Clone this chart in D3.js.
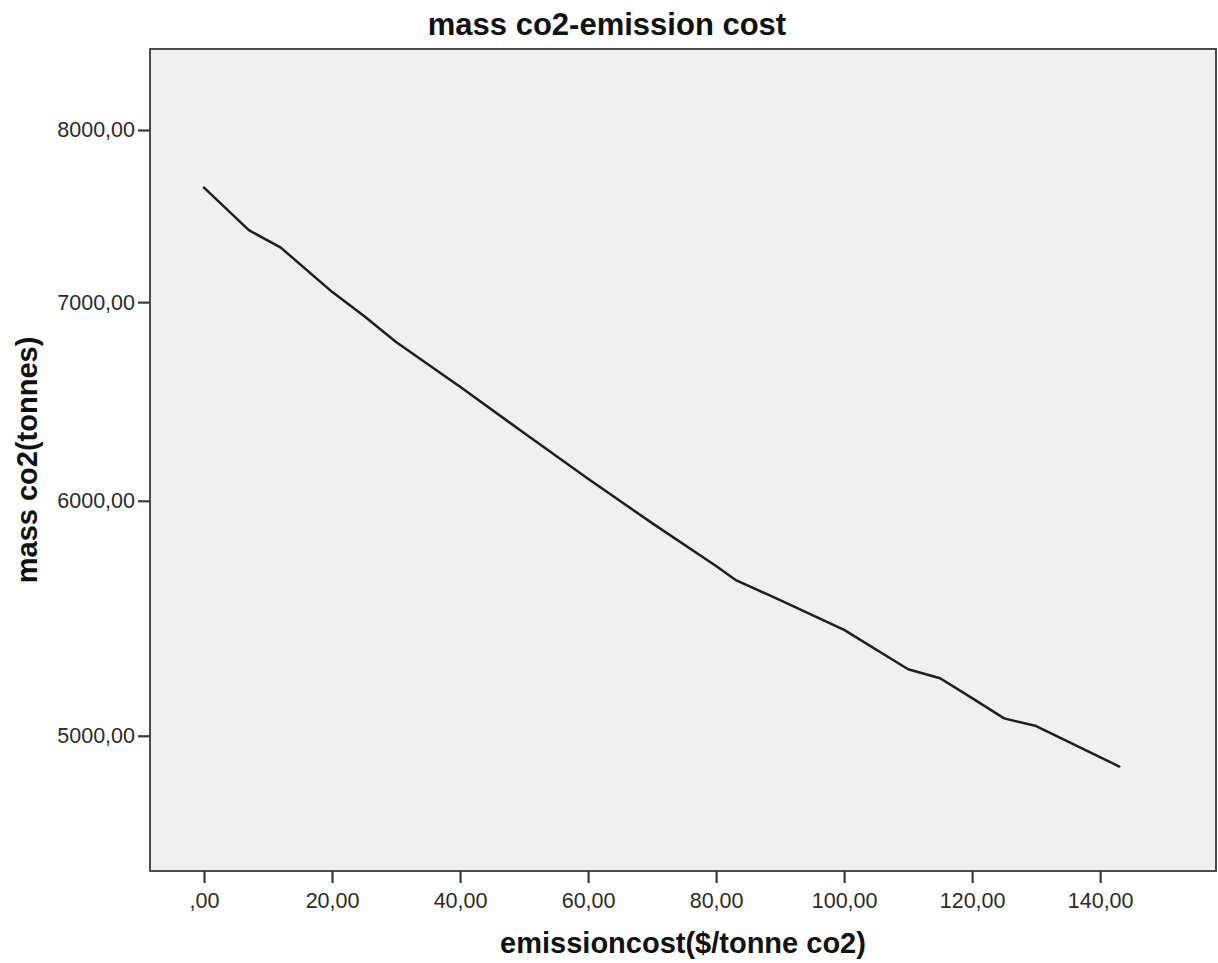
<!DOCTYPE html>
<html>
<head>
<meta charset="utf-8">
<script src="https://cdn.jsdelivr.net/npm/d3@7"></script>
<style>
  html, body { margin: 0; padding: 0; background: #ffffff; }
  svg { display: block; font-family: "Liberation Sans", Arial, sans-serif; }
</style>
</head>
<body>
<svg id="chart" width="1218" height="963"></svg>
<script>
// Emission cost ($/tonne CO2) and resulting CO2 mass (tonnes)
const emissionCost = [0, 7, 12, 20, 25, 30, 40, 50, 60, 70, 80, 83, 90, 100, 110, 115, 120, 125, 130, 143];
const massCO2 = [7650, 7402, 7302, 7056, 6925, 6787, 6555, 6324, 6103, 5897, 5704, 5643, 5555, 5428, 5265, 5228, 5148, 5068, 5038, 4882];

const xTicks = [0, 20, 40, 60, 80, 100, 120, 140];
const yTicks = [5000, 6000, 7000, 8000];

const chartTitle = "mass co2-emission cost";
const xTitle = "emissioncost($/tonne co2)";
const yTitle = "mass co2(tonnes)";

const svg = d3.select("#chart");
const plot = { left: 150, top: 49, right: 1216, bottom: 871 };

const x = d3.scaleLinear().domain([-8.44, 158.1]).range([plot.left, plot.right]);
const y = d3.scaleLog().domain([4502, 8519]).range([plot.bottom, plot.top]);

// Decimal comma with no leading zero, e.g. ",00", "20,00"
const fmt = v => {
  let s = d3.format(".2f")(v).replace(".", ",");
  if (s.startsWith("0,")) s = s.slice(1);
  return s;
};

// Plot background
svg.append("rect")
  .attr("x", plot.left).attr("y", plot.top)
  .attr("width", plot.right - plot.left).attr("height", plot.bottom - plot.top)
  .attr("fill", "#f0f0f0");

// Data line
const line = d3.line()
  .x((d, i) => x(emissionCost[i]))
  .y(d => y(d));

svg.append("path")
  .datum(massCO2)
  .attr("d", line)
  .attr("fill", "none")
  .attr("stroke", "#1e1e1e")
  .attr("stroke-width", 2.5)
  .attr("stroke-linejoin", "round")
  .attr("stroke-linecap", "round");

// Plot frame
svg.append("rect")
  .attr("x", plot.left).attr("y", plot.top)
  .attr("width", plot.right - plot.left).attr("height", plot.bottom - plot.top)
  .attr("fill", "none")
  .attr("stroke", "#3a3a3a")
  .attr("stroke-width", 1.8);

// Axes
const xAxis = svg.append("g")
  .attr("transform", `translate(0,${plot.bottom})`)
  .call(d3.axisBottom(x).tickValues(xTicks).tickFormat(fmt).tickSize(12).tickPadding(10));
const yAxis = svg.append("g")
  .attr("transform", `translate(${plot.left},0)`)
  .call(d3.axisLeft(y).tickValues(yTicks).tickFormat(fmt).tickSize(12).tickPadding(3));

[xAxis, yAxis].forEach(g => {
  g.select(".domain").remove();
  g.selectAll(".tick line").attr("stroke", "#3a3a3a").attr("stroke-width", 2.2);
  g.selectAll(".tick text")
    .attr("fill", "#2a2a2a")
    .style("font-size", "21.5px")
    .style("font-family", "'Liberation Sans', Arial, sans-serif");
});

// Titles
svg.append("text")
  .attr("x", 607).attr("y", 35)
  .attr("text-anchor", "middle")
  .style("font-size", "31px").style("font-weight", "bold")
  .attr("fill", "#111111")
  .text(chartTitle);

svg.append("text")
  .attr("x", (plot.left + plot.right) / 2).attr("y", 953)
  .attr("text-anchor", "middle")
  .style("font-size", "29px").style("font-weight", "bold")
  .attr("fill", "#111111")
  .text(xTitle);

svg.append("text")
  .attr("transform", `translate(37,${(plot.top + plot.bottom) / 2}) rotate(-90)`)
  .attr("text-anchor", "middle")
  .style("font-size", "29px").style("font-weight", "bold")
  .attr("fill", "#111111")
  .text(yTitle);
</script>
</body>
</html>
